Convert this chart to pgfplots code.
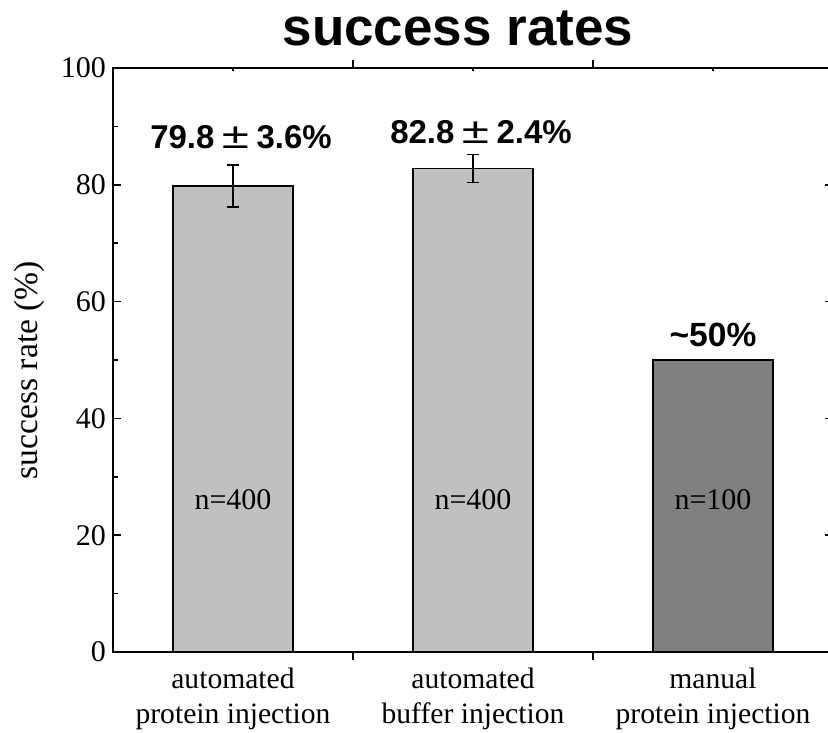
\documentclass[border=0pt]{standalone}
\usepackage{pgfplots}
\pgfplotsset{compat=1.18}
\usepackage{graphicx}
\usepackage{fontspec}
\setmainfont{Liberation Serif}
\setsansfont{Liberation Sans}
\definecolor{lightbar}{HTML}{C0C0C0}
\definecolor{darkbar}{HTML}{808080}
\newcommand{\wpm}{\makebox[21pt]{\scalebox{1.5}[1.1]{\mdseries ±}}}
\begin{document}
\begin{tikzpicture}[x=1pt,y=1pt]
\begin{axis}[
  at={(0,0)}, anchor=south west,
  width=360pt, height=292pt, scale only axis,
  xmin=0.5, xmax=3.5, ymin=0, ymax=100,
  axis line style={line width=1pt},
  tick style={black, line width=0.8pt},
  tick align=inside,
  major tick length=4pt, minor tick length=2.5pt,
  ytick={0,20,...,100}, minor ytick={10,30,...,90},
  xtick={1.5,2.5}, xticklabels={},
  extra x ticks={1,2,3},
  extra x tick labels={automated\\protein injection, automated\\buffer injection, manual\\protein injection},
  extra x tick style={major tick length=-1.5pt, tick label style={align=center, yshift=-6pt, font=\fontsize{14.8pt}{17.5pt}\selectfont}},
  /pgf/number format/assume math mode=true,
  y tick label style={font=\fontsize{15pt}{18pt}\selectfont},
  ybar, bar width=0.5, bar shift=0pt,
  clip=false,
]
\addplot[fill=lightbar, draw=black, line width=0.6pt,
  error bars/.cd, y dir=both, y explicit,
  error bar style={black, line width=0.6pt},
  error mark options={rotate=90, mark size=3pt, black, line width=0.6pt}]
  coordinates {(1,79.8) +- (0,3.6) (2,82.8) +- (0,2.4)};
\addplot[fill=darkbar, draw=black, line width=0.6pt] coordinates {(3,50)};
\node[font=\fontsize{16.5pt}{20pt}\selectfont\sffamily\bfseries, xshift=4pt] at (axis cs:1,88.2) {79.8\wpm3.6\%};
\node[font=\fontsize{16.5pt}{20pt}\selectfont\sffamily\bfseries, xshift=4pt] at (axis cs:2,89.0) {82.8\wpm2.4\%};
\node[font=\fontsize{16.8pt}{20pt}\selectfont\sffamily\bfseries] at (axis cs:3,54.3) {\char`\~50\%};
\node[font=\fontsize{15pt}{18pt}\selectfont] at (axis cs:1,26) {n=400};
\node[font=\fontsize{15pt}{18pt}\selectfont] at (axis cs:2,26) {n=400};
\node[font=\fontsize{15pt}{18pt}\selectfont] at (axis cs:3,26) {n=100};
\end{axis}
\node[font=\fontsize{26.5pt}{30pt}\selectfont\sffamily\bfseries] at (172.5,312) {success rates};
\node[rotate=90, font=\fontsize{16.8pt}{18pt}\selectfont] at (-42,141) {success rate (\%)};
\pgfresetboundingbox
\useasboundingbox (-56.5,-40) rectangle (357.5,326);
\end{tikzpicture}
\end{document}
